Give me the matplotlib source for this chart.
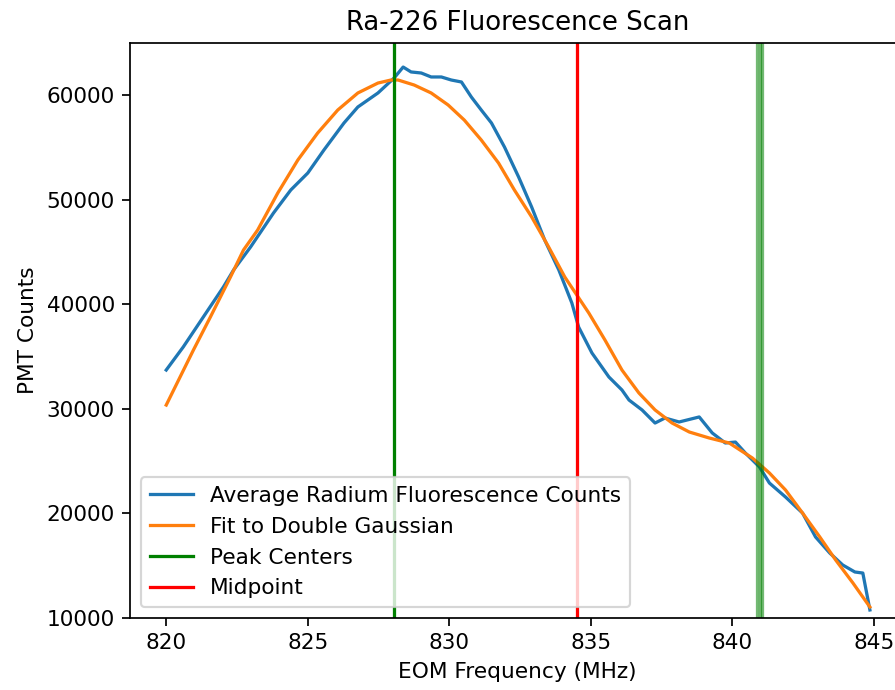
import matplotlib
matplotlib.use('Agg')
import matplotlib.pyplot as plt

# averaged scan
freq = [820.0, 820.6, 821.31, 822.02, 822.38, 822.98, 823.79, 824.4, 825.0, 825.57,
        826.28, 826.77, 827.48, 828.05, 828.37, 828.65, 829.01, 829.36, 829.72, 830.07,
        830.43, 830.78, 831.13, 831.49, 831.95, 832.45, 832.91, 833.37, 833.87, 834.33,
        834.57, 835.04, 835.64, 836.1, 836.35, 836.81, 837.27, 837.62, 838.12, 838.83,
        839.29, 839.75, 840.11, 840.46, 840.96, 841.31, 841.88, 842.48, 842.94, 843.44,
        843.9, 844.33, 844.61, 844.86]
counts = [33720, 35920, 38790, 41660, 43290, 45490, 48740, 50940, 52560, 54760,
          57350, 58880, 60220, 61650, 62700, 62230, 62130, 61750, 61750, 61460,
          61270, 59830, 58590, 57350, 55050, 52180, 49310, 46160, 43290, 40130,
          37830, 35350, 33050, 31810, 30850, 29900, 28650, 29130, 28750, 29230,
          27700, 26740, 26830, 25780, 24440, 22910, 21570, 20040, 17750, 16220,
          15070, 14400, 14300, 10770]

# double gaussian fit
fit_freq = [820.0, 820.96, 821.56, 822.27, 822.73, 823.23, 823.94, 824.65, 825.35, 826.06,
            826.77, 827.48, 827.94, 828.19, 828.76, 829.36, 829.96, 830.53, 831.13, 831.74,
            832.3, 832.91, 833.51, 834.08, 834.93, 835.5, 836.1, 836.7, 837.27, 837.87,
            838.48, 839.18, 839.89, 840.71, 841.31, 841.88, 842.48, 843.09, 843.65, 844.26,
            844.86]
fit_counts = [30370, 35630, 38790, 42620, 45200, 47110, 50650, 53810, 56390, 58590,
              60220, 61170, 61460, 61460, 60980, 60220, 59070, 57630, 55720, 53520,
              50940, 48360, 45490, 42620, 39170, 36590, 33720, 31520, 29900, 28650,
              27790, 27220, 26740, 25300, 23870, 22240, 20040, 17750, 15550, 13350,
              11050]

peaks = [828.05, 840.87, 840.96, 841.05]
midpoint = 834.5

dpi = 156
fig = plt.figure(figsize=(895/dpi, 690/dpi), dpi=dpi)
ax = fig.add_axes([130/895, 72/690, 775/895, 575/690])

ax.plot(freq, counts, label='Average Radium Fluorescence Counts')
ax.plot(fit_freq, fit_counts, label='Fit to Double Gaussian')
for i, p in enumerate(peaks):
    ax.axvline(p, color='green', alpha=1.0 if i == 0 else 0.55,
               label='Peak Centers' if i == 0 else None)
ax.axvline(midpoint, color='red', label='Midpoint')

ax.set_xlim(818.72, 846.1)
ax.set_ylim(10000, 65000)
ax.set_title('Ra-226 Fluorescence Scan')
ax.set_xlabel('EOM Frequency (MHz)')
ax.set_ylabel('PMT Counts')
ax.legend(loc='lower left')

fig.savefig('out.png', dpi=dpi)
